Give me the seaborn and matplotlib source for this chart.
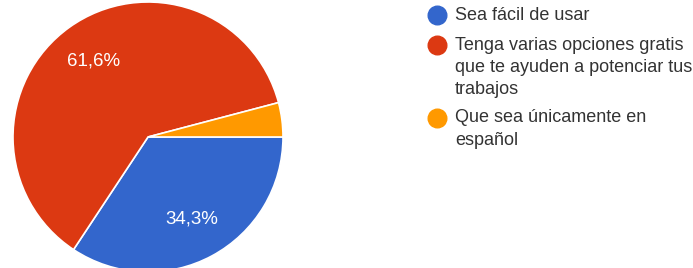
import matplotlib
matplotlib.use("Agg")
import matplotlib.pyplot as plt
import seaborn as sns

categories = ["Sea fácil de usar",
              "Tenga varias opciones gratis\nque te ayuden a potenciar tus\ntrabajos",
              "Que sea únicamente en\nespañol"]
values = [34.3, 61.6, 4.1]
colors = ["#3366cc", "#dc3912", "#ff9900"]

sns.set_theme(style="white")
plt.rcParams['font.family'] = ['Liberation Sans', 'DejaVu Sans']

W, H = 693, 268
fig = plt.figure(figsize=(W / 100, H / 100), dpi=100)
ax = fig.add_axes([0, 0, 1, 1])

def pct(p):
    # google hides labels on tiny slices
    if p < 5:
        return ""
    return f"{p:.1f}".replace(".", ",") + "%"

wedges, texts, autotexts = ax.pie(values, colors=colors, startangle=0, counterclock=False,
                                  center=(148, H - 137), radius=135, autopct=pct,
                                  pctdistance=0.69,
                                  wedgeprops=dict(edgecolor="white", linewidth=1.2),
                                  textprops=dict(color="white", fontsize=13.5))
ax.set_xlim(0, W)
ax.set_ylim(0, H)
ax.set_aspect("auto")
ax.axis("off")

# legend drawn by hand so the dot sits on the first line
leg_y = [15, 45, 118]
line_h = 22.5
for y, lab, c in zip(leg_y, categories, colors):
    ax.scatter([437], [H - y], s=180, color=c, zorder=3)
    for i, line in enumerate(lab.split("\n")):
        ax.text(455, H - y - i * line_h, line, fontsize=13, color="#333333",
                va="center", ha="left")

fig.savefig("out.png", dpi=100)
